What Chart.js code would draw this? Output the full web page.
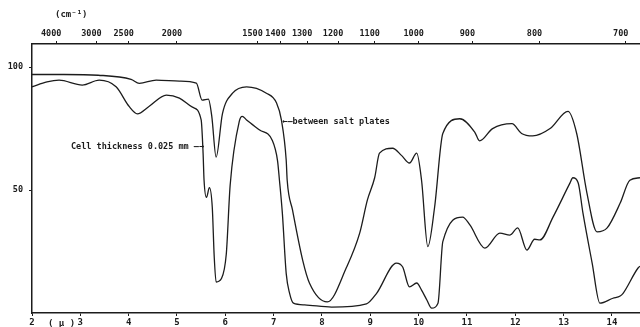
<!DOCTYPE html>
<html>
<head>
<meta charset="utf-8">
<script src="https://cdn.jsdelivr.net/npm/chart.js@4.4.1/dist/chart.umd.min.js"></script>
<style>
  html, body { margin: 0; padding: 0; background: #fff; }
</style>
</head>
<body>
<canvas id="irChart" width="640" height="327"></canvas>
<script>
// wavelength ticks (microns) along the bottom, wavenumber ticks (cm-1) along the top
const micronTicks = [2, 3, 4, 5, 6, 7, 8, 9, 10, 11, 12, 13, 14];
const wavenumberTicks = [4000, 3000, 2500, 2000, 1500, 1400, 1300, 1200, 1100, 1000, 900, 800, 700];
const transmittanceTicks = [50, 100];

// spectrum between salt plates
const plateMicrons = [2.0, 2.66, 3.37, 4.05, 4.22, 4.57, 5.05, 5.40, 5.52, 5.65, 5.72, 5.81, 5.94, 6.15, 6.44,
  6.85, 7.06, 7.16, 7.26, 7.28, 7.39, 7.60, 7.74, 8.11, 8.51, 8.78, 8.94, 9.09, 9.19, 9.46, 9.65, 9.81, 9.96,
  10.06, 10.19, 10.33, 10.50, 10.85, 11.16, 11.26, 11.53, 11.93, 12.13, 12.36, 12.72, 13.09, 13.27, 13.48,
  13.69, 13.90, 14.17, 14.37, 14.58];
const plateTrans = [97, 97, 96.7, 95, 93.4, 94.7, 94.3, 93.5, 86.6, 87, 80, 63.4, 81, 89.4, 92,
  89.4, 85.4, 78.5, 62, 54, 41.9, 21.5, 12.2, 4.5, 18.7, 32.5, 46, 55, 65, 67, 64, 61, 65,
  54, 27, 43, 73, 79, 73.6, 70, 75, 77, 73, 72, 75, 82, 73, 49,
  33, 34.6, 44.7, 54, 55];

// spectrum with cell thickness 0.025 mm
const cellMicrons = [2.0, 2.31, 2.56, 3.04, 3.39, 3.74, 4.01, 4.18, 4.42, 4.78, 5.05, 5.32, 5.50, 5.54, 5.56,
  5.61, 5.67, 5.73, 5.77, 5.81, 5.92, 6.02, 6.10, 6.29, 6.35, 6.44, 6.71, 6.97, 7.08, 7.12, 7.18, 7.26,
  7.33, 7.41, 7.64, 8.20, 8.92, 9.13, 9.54, 9.67, 9.81, 9.96, 10.06, 10.17, 10.27, 10.40, 10.50, 10.91,
  11.06, 11.37, 11.68, 11.89, 12.05, 12.24, 12.40, 12.51, 12.78, 13.13, 13.19, 13.30, 13.40, 13.59, 13.75,
  14.02, 14.17, 14.23, 14.54, 14.58];
const cellTrans = [92, 94, 94.7, 92.7, 94.7, 92, 84, 81, 84, 88.6, 87.4, 83.7, 78.5, 65, 54,
  47, 51, 43, 23, 12.6, 14, 24, 52, 78, 80, 78.5, 74.4, 70.3, 62, 54, 40.6, 16,
  8, 4, 3.3, 2.4, 3.7, 8, 20.3, 18.7, 10.6, 12.2, 9.3, 5.3, 2, 4, 29, 39,
  35.8, 26.4, 32.5, 31.7, 34.6, 25.6, 30, 29.7, 39, 52.8, 55, 53, 40.6, 20.3, 4,
  6, 6.9, 8, 18.3, 19];

// where the two notes point (micron, %T)
const cellNote = [5.56, 67.5];
const plateNote = [7.18, 77.6];

const ink = '#1c1c1c';
const monoFont = "'DejaVu Sans Mono', 'Liberation Mono', monospace";

function toPoints(xs, ys) {
  return xs.map((v, i) => ({ x: v, y: ys[i] }));
}

const notesPlugin = {
  id: 'notes',
  afterDraw(chart) {
    const { ctx, chartArea, scales: { x, y } } = chart;
    ctx.save();
    ctx.fillStyle = ink;
    ctx.font = 'bold 8.5px ' + monoFont;
    ctx.textBaseline = 'middle';
    ctx.textAlign = 'right';
    ctx.fillText('Cell thickness 0.025 mm \u2014\u2192', x.getPixelForValue(cellNote[0]), y.getPixelForValue(cellNote[1]));
    ctx.textAlign = 'left';
    ctx.fillText('\u2190\u2014between salt plates', x.getPixelForValue(plateNote[0]), y.getPixelForValue(plateNote[1]));
    ctx.font = 'bold 9px ' + monoFont;
    ctx.fillText('(cm\u207B\u00B9)', chartArea.left + 23, 15);
    ctx.fillText('( \u00B5 )', chartArea.left + 16, chartArea.bottom + 11);
    ctx.restore();
  }
};

const ctx = document.getElementById('irChart').getContext('2d');
new Chart(ctx, {
  type: 'line',
  data: {
    datasets: [
      {
        label: 'between salt plates',
        data: toPoints(plateMicrons, plateTrans),
        borderColor: ink,
        borderWidth: 1.3,
        pointRadius: 0,
        cubicInterpolationMode: 'monotone',
        fill: false
      },
      {
        label: 'Cell thickness 0.025 mm',
        data: toPoints(cellMicrons, cellTrans),
        borderColor: ink,
        borderWidth: 1.3,
        pointRadius: 0,
        cubicInterpolationMode: 'monotone',
        fill: false
      }
    ]
  },
  options: {
    responsive: false,
    animation: false,
    parsing: false,
    layout: { padding: 0 },
    font: { family: monoFont },
    plugins: {
      legend: { display: false },
      tooltip: { enabled: false }
    },
    scales: {
      x: {
        type: 'linear',
        position: 'bottom',
        min: 2,
        max: 14.58,
        afterBuildTicks: (scale) => { scale.ticks = micronTicks.map(v => ({ value: v })); },
        afterFit: (scale) => { scale.height = 14; },
        grid: { drawOnChartArea: false, tickLength: 3, color: ink },
        border: { color: ink, width: 1.5 },
        ticks: {
          autoSkip: false, maxRotation: 0, padding: 1, color: ink,
          font: { family: monoFont, size: 9, weight: 'bold' }
        }
      },
      x2: {
        type: 'linear',
        position: 'top',
        min: 2,
        max: 14.58,
        afterBuildTicks: (scale) => { scale.ticks = wavenumberTicks.map(w => ({ value: 10000 / w })); },
        afterFit: (scale) => { scale.height = 44; },
        grid: { drawOnChartArea: false, tickLength: 3, color: ink },
        border: { color: ink, width: 1.5 },
        ticks: {
          autoSkip: false, maxRotation: 0, padding: 2, labelOffset: -5, color: ink,
          font: { family: monoFont, size: 8.5, weight: 'bold' },
          callback: (v) => String(Math.round(10000 / v / 100) * 100)
        }
      },
      y: {
        type: 'linear',
        position: 'left',
        min: 0,
        max: 109.4,
        afterBuildTicks: (scale) => { scale.ticks = transmittanceTicks.map(v => ({ value: v })); },
        afterFit: (scale) => { scale.width = 32; },
        grid: { drawOnChartArea: false, tickLength: 3, color: ink },
        border: { color: ink, width: 1.5 },
        ticks: {
          padding: 6, color: ink,
          font: { family: monoFont, size: 8.5, weight: 'bold' }
        }
      }
    }
  },
  plugins: [notesPlugin]
});
</script>
</body>
</html>
